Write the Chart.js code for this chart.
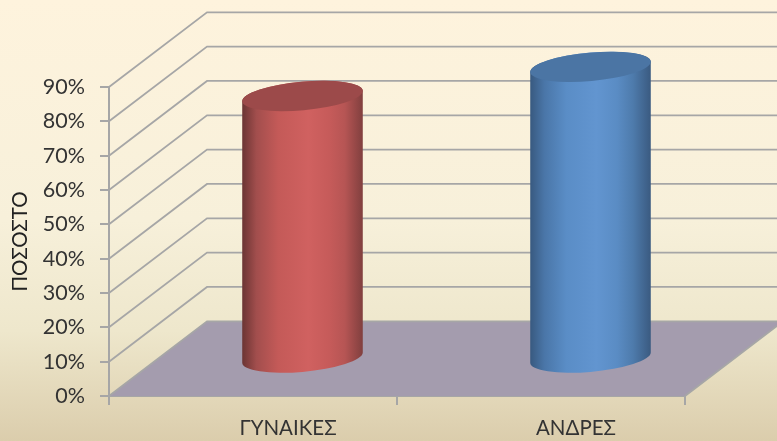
<!DOCTYPE html>
<html><head><meta charset="utf-8">
<style>html,body{margin:0;padding:0;background:#f5eed6}canvas{display:block}</style>
<script src="https://cdn.jsdelivr.net/npm/chart.js@4/dist/chart.umd.min.js"></script>
</head><body><canvas id="c" width="777" height="441"></canvas>
<script>
const categories = ["ΓΥΝΑΙΚΕΣ", "ΑΝΔΡΕΣ"];
const values = [76.5, 85];
const yTickStep = 10;
const yMax = 90;
const axisTitle = "ΠΟΣΟΣΤΟ";
const depthX = 98, depthY = 74.7;
const faces = [
  {stops:["#6a3433","#a24e4d","#c45a58","#d06160","#c65b5a","#b65554","#803f3e"], top:"#9c4a4a"},
  {stops:["#38597f","#4a76a8","#5a8dc6","#6295d0","#5a8cc4","#4e7bac","#3a5a80"], top:"#4b75a4"}
];
const stopAt = [0,0.12,0.3,0.55,0.72,0.85,1];
const RX = 60.5, RY = 14.2, ROT = -0.09;

const scene = {
  id:'scene',
  beforeDraw(chart){
    const {ctx,width,height} = chart;
    const g = ctx.createLinearGradient(0,0,0,height);
    g.addColorStop(0,"#fef3dd"); g.addColorStop(0.5,"#f7f0da");
    g.addColorStop(0.75,"#eee7cc"); g.addColorStop(1,"#dbcdac");
    ctx.fillStyle = g; ctx.fillRect(0,0,width,height);
  },
  beforeDatasetsDraw(chart){
    const {ctx,chartArea:a,scales:{y}} = chart;
    const y0 = y.getPixelForValue(0);
    ctx.save();
    ctx.fillStyle = "#a49cae";
    ctx.beginPath();
    ctx.moveTo(a.left,y0); ctx.lineTo(a.left+depthX,y0-depthY);
    ctx.lineTo(a.right+depthX,y0-depthY); ctx.lineTo(a.right,y0); ctx.closePath(); ctx.fill();
    ctx.strokeStyle = "#a6a6a6"; ctx.lineWidth = 1.8;
    y.ticks.forEach(t=>{
      const p = y.getPixelForValue(t.value);
      ctx.beginPath(); ctx.moveTo(a.left,p); ctx.lineTo(a.left+depthX,p-depthY);
      ctx.lineTo(a.right+depthX,p-depthY);
      if(t.value===0) ctx.lineTo(a.right,p);
      ctx.stroke();
    });
    ctx.restore();
  },
  afterDatasetsDraw(chart){
    const {ctx} = chart;
    const meta = chart.getDatasetMeta(0);
    const t0 = Math.atan2(-RY*Math.sin(ROT), RX*Math.cos(ROT));
    meta.data.forEach((bar,i)=>{
      const cx = bar.x+depthX/2+0.5, top = bar.y-depthY/2, base = bar.base-depthY/2;
      const f = faces[i];
      const g = ctx.createLinearGradient(cx-RX,0,cx+RX,0);
      f.stops.forEach((c,k)=>g.addColorStop(stopAt[k],c));
      ctx.save();
      ctx.fillStyle = g;
      ctx.beginPath();
      ctx.ellipse(cx,base,RX,RY,ROT,t0,t0+Math.PI);
      ctx.ellipse(cx,top,RX,RY,ROT,t0+Math.PI,t0+2*Math.PI);
      ctx.closePath(); ctx.fill();
      ctx.fillStyle = f.top;
      ctx.beginPath(); ctx.ellipse(cx,top,RX,RY,ROT,0,2*Math.PI); ctx.fill();
      ctx.restore();
    });
  }
};

new Chart(document.getElementById('c'),{
  type:'bar',
  data:{labels:categories,datasets:[{data:values,backgroundColor:'rgba(0,0,0,0)',borderWidth:0}]},
  plugins:[scene],
  options:{
    responsive:false,animation:false,
    layout:{padding:{left:0,top:87,right:92,bottom:0}},
    plugins:{legend:{display:false},tooltip:{enabled:false},title:{display:false}},
    scales:{
      x:{
        afterFit(s){s.height=45;},
        grid:{display:true,drawOnChartArea:false,color:"#a6a6a6",lineWidth:2,tickLength:9,offset:true},
        border:{display:true,color:"#a6a6a6",width:2},
        ticks:{color:"#333",font:{family:"Lato, 'Open Sans', sans-serif",size:20.5},labelOffset:35,padding:11,maxRotation:0}
      },
      y:{
        min:0,max:yMax,
        afterFit(s){s.width=109;},
        grid:{display:true,drawOnChartArea:false,color:"#a6a6a6",lineWidth:2,tickLength:9},
        border:{display:true,color:"#a6a6a6",width:2},
        ticks:{stepSize:yTickStep,color:"#333",font:{family:"Lato, 'Open Sans', sans-serif",size:21.5},padding:15,callback:v=>v+"%"},
        title:{display:true,text:axisTitle,color:"#222",font:{family:"Lato, 'Open Sans', sans-serif",size:20.5},padding:{top:8,bottom:0}}
      }
    }
  }
});
</script></body></html>
